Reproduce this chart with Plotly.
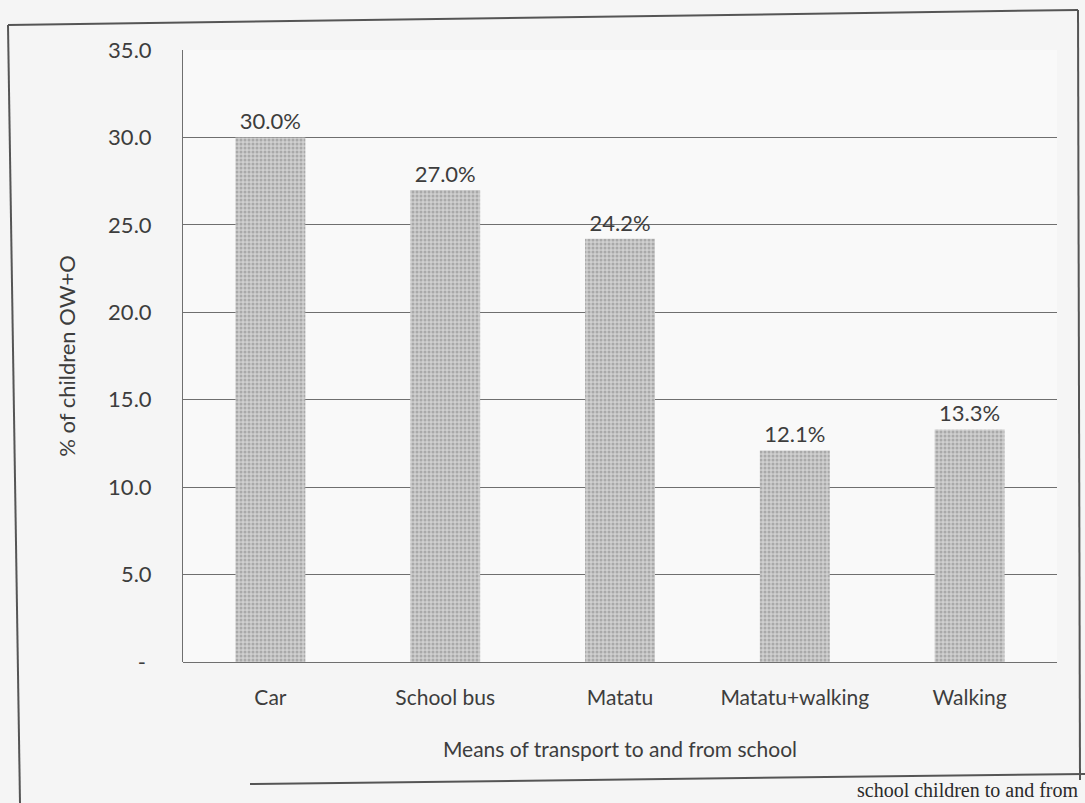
import plotly.graph_objects as go

# Share of children (OW+O) by usual means of transport to and from school
modes = ["Car", "School bus", "Matatu", "Matatu+walking", "Walking"]
share_pct = [30.0, 27.0, 24.2, 12.1, 13.3]

y_ticks = [0, 5, 10, 15, 20, 25, 30, 35]
y_tick_text = ["- ", "5.0", "10.0", "15.0", "20.0", "25.0", "30.0", "35.0"]

FONT = "Lato, 'Open Sans', sans-serif"
INK = "#3d3d3d"
W, H = 1085, 803
L, R, T, B = 183, 28, 50, 141

fig = go.Figure(
    go.Bar(
        x=modes,
        y=share_pct,
        text=[f"{v:.1f}%" for v in share_pct],
        textposition="outside",
        textfont=dict(family=FONT, size=22, color=INK),
        cliponaxis=False,
        marker=dict(
            color="#c8c8c8",
            line=dict(width=0),
            pattern=dict(
                shape=".",
                fillmode="replace",
                bgcolor="#d0d0d0",
                fgcolor="#a9a9a9",
                size=4,
                solidity=0.45,
            ),
        ),
        width=0.4,
    )
)


def px_x(px):
    return (px - L) / (W - L - R)


def px_y(py):
    return (H - B - py) / (H - T - B)


frame_color = "#555555"
frame = [
    # outer page frame around the figure
    (8, 25, 1078, 10),
    (8, 25, 20, 803),
    (1078, 10, 1080, 780),
    (250, 784, 1085, 774),
]
shapes = [
    dict(
        type="line", xref="paper", yref="paper",
        x0=px_x(a), y0=px_y(b), x1=px_x(c), y1=px_y(d),
        line=dict(color=frame_color, width=2),
    )
    for a, b, c, d in frame
]

fig.update_layout(
    width=W,
    height=H,
    margin=dict(l=L, r=R, t=T, b=B, autoexpand=False),
    paper_bgcolor="#f5f5f5",
    plot_bgcolor="#f9f9f9",
    showlegend=False,
    font=dict(family=FONT, size=22, color=INK),
    bargap=0.6,
    shapes=shapes,
    xaxis=dict(
        showgrid=False,
        showline=False,
        ticks="",
        tickfont=dict(family=FONT, size=21, color=INK),
        ticklabelstandoff=21,
        title=dict(
            text="Means of transport to and from school",
            font=dict(family=FONT, size=21, color=INK),
            standoff=34,
        ),
    ),
    yaxis=dict(
        range=[0, 35],
        tickvals=y_ticks,
        ticktext=y_tick_text,
        showgrid=True,
        gridcolor="#6f6f6f",
        gridwidth=1,
        zeroline=True,
        zerolinecolor="#6f6f6f",
        zerolinewidth=1,
        showline=True,
        linecolor="#6f6f6f",
        linewidth=1,
        ticks="",
        ticklabelstandoff=26,
        tickfont=dict(family=FONT, size=22, color=INK),
        title=dict(
            text="% of children OW+O",
            font=dict(family=FONT, size=22, color=INK),
            standoff=26,
        ),
    ),
    annotations=[
        dict(
            xref="paper", yref="paper",
            x=px_x(1080), y=px_y(790),
            xanchor="right", yanchor="middle",
            text="school children to and from",
            showarrow=False,
            font=dict(family="Liberation Serif, serif", size=20, color="#2a2a2a"),
        )
    ],
)

fig.write_html("out.html")
